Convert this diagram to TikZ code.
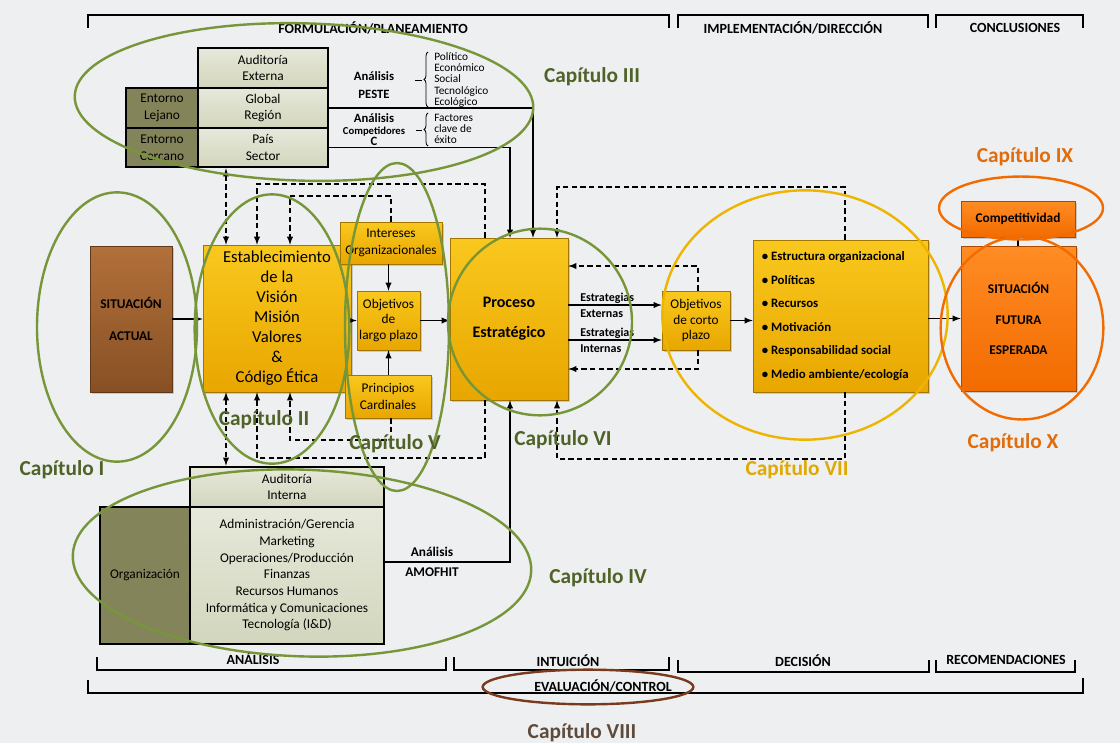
\documentclass[tikz,border=0pt]{standalone}
\usepackage{fontspec}
\setmainfont{Carlito}
\usetikzlibrary
  {
    positioning,               % place nodes relative to other nodes
    shadows,                   % soft shadow under the boxes
    decorations.pathreplacing, % braces beside the analyses
  }

\definecolor{fondo}{HTML}{EDEFF1}
\definecolor{oroclaro}{HTML}{F9C81E}
\definecolor{oro}{HTML}{E8A600}
\definecolor{naranjaclaro}{HTML}{FF8C24}
\definecolor{naranja}{HTML}{F26B00}
\definecolor{cafeclaro}{HTML}{B2703A}
\definecolor{cafe}{HTML}{875024}
\definecolor{salvia}{HTML}{D3D6BD}
\definecolor{salviaclaro}{HTML}{E6E8DA}
\definecolor{olivaosc}{HTML}{84845A}
\definecolor{olivo}{HTML}{77963A}
\definecolor{olivotxt}{HTML}{4F6228}
\definecolor{ambar}{HTML}{EDB400}
\definecolor{ambartxt}{HTML}{E0A800}
\definecolor{naranjatxt}{HTML}{E36C0A}
\definecolor{marron}{HTML}{7A3B1C}
\definecolor{marrontxt}{HTML}{5E4B3C}

\begin{document}
\begin{tikzpicture}[x=0.75pt, y=-0.75pt, >=latex,
    every node/.style={inner sep=0pt, align=center},
    tam/.style 2 args={minimum width=#1*0.75pt, minimum height=#2*0.75pt},
    sombra/.style={drop shadow={opacity=0.35, shadow xshift=1.2pt, shadow yshift=-1.2pt}},
    orobox/.style={draw=oro!70!black, line width=0.4pt, top color=oroclaro, bottom color=oro, sombra},
    naranjabox/.style={draw=naranja!70!black, line width=0.4pt, top color=naranjaclaro, bottom color=naranja, sombra},
    cafebox/.style={draw=cafe!70!black, line width=0.4pt, top color=cafeclaro, bottom color=cafe, sombra},
    clarobox/.style={draw=black, line width=2pt, top color=salviaclaro, bottom color=salvia},
    oscurobox/.style={draw=black, line width=2pt, fill=olivaosc},
    cuerpo/.style={font=\fontsize{10}{12.5}\selectfont},
    flecha/.style={->, line width=1.1pt},
    guia/.style={line width=1.1pt, dash pattern=on 4pt off 2.5pt},
    llave/.style={decorate, decoration={brace, amplitude=3pt}, line width=0.6pt},
    tramo/.style={line width=1.8pt},
    fase/.style={font=\bfseries\fontsize{10.5}{12}\selectfont},
    anillo/.style={line width=1.8pt},
    capitulo/.style={font=\bfseries\fontsize{16}{18}\selectfont},
  ]

  % background and page size
  \fill[fondo] (0,0) rectangle (1120,743);

  % phase brackets, top
  \draw[tramo] (88,28) -- (88,15) -- (669,15) -- (669,28);
  \draw[tramo] (678,28) -- (678,15) -- (928,15) -- (928,28);
  \draw[tramo] (936,28) -- (936,15) -- (1083,15) -- (1083,28);
  \node[fase] (formulacion) at (373,28) {FORMULACIÓN/PLANEAMIENTO};
  \node[fase] (implementacion) at (793,28) {IMPLEMENTACIÓN/DIRECCIÓN};
  \node[fase] (conclusiones) at (1015,28) {CONCLUSIONES};

  % phase brackets, bottom
  \draw[tramo] (97,657) -- (97,670) -- (446,670) -- (446,657);
  \draw[tramo] (454,657) -- (454,670) -- (669,670) -- (669,657);
  \draw[tramo] (678,660) -- (678,672) -- (929,672) -- (929,660);
  \draw[tramo] (936,660) -- (936,672) -- (1075,672) -- (1075,660);
  \draw[tramo] (88,680) -- (88,693) -- (1083,693) -- (1083,678);
  \node[fase] (analisis) at (253,659) {ANÁLISIS};
  \node[fase] (intuicion) at (568,661) {INTUICIÓN};
  \node[fase] (decision) at (803,661) {DECISIÓN};
  \node[fase] (recomendaciones) at (1006,660) {RECOMENDACIONES};
  \node[fase] (evaluacion) at (603,686) {EVALUACIÓN/CONTROL};

  % external audit
  \node[clarobox, cuerpo, tam={130}{40}] (externa) at (263,68) {Auditoría\\Externa};
  \node[clarobox, cuerpo, tam={130}{40}] (global) at (263,108) {Global\\Región};
  \node[clarobox, cuerpo, tam={130}{39}] (pais) at (263,147.5) {País\\Sector};
  \node[oscurobox, cuerpo, tam={72}{40}] (lejano) at (162,108) {Entorno\\Lejano};
  \node[oscurobox, cuerpo, tam={72}{39}] (cercano) at (162,147.5) {Entorno\\Cercano};

  \node[font=\bfseries\fontsize{9.5}{13.5}\selectfont] (peste) at (374,85) {Análisis\\PESTE};
  \node[font=\fontsize{8.5}{8.3}\selectfont, align=left, anchor=west] (factorespeste) at (434,80)
    {Político\\Económico\\Social\\Tecnológico\\Ecológico};
  \draw[llave] (428,107) -- (428,52);
  \draw[line width=0.6pt] (415,80) -- (422,80);

  \node[font=\bfseries\fontsize{9.5}{8.6}\selectfont] (competidores) at (374,130)
    {Análisis\\{\fontsize{8}{8.6}\selectfont Competidores}\\C};
  \node[font=\fontsize{8.5}{8.3}\selectfont, align=left, anchor=west] (factoresclave) at (434,129)
    {Factores\\clave de\\éxito};
  \draw[llave] (428,146) -- (428,113);
  \draw[line width=0.6pt] (416,130) -- (422,130);

  % main chain
  \node[cafebox, font=\bfseries\fontsize{10}{24}\selectfont, tam={82}{146}] (actual) at (131,319) {SITUACIÓN\\ACTUAL};
  \node[orobox, font=\fontsize{12.5}{15}\selectfont, tam={148}{147}] (mision) at (277,318.5)
    {Establecimiento\\de la\\Visión\\Misión\\Valores\\\&\\Código Ética};
  \node[orobox, cuerpo, tam={102}{42}] (intereses) at (391,243) {Intereses\\Organizacionales};
  \node[orobox, font=\fontsize{10}{11.6}\selectfont, tam={63}{59}] (largo) at (388.5,320.5) {Objetivos\\de\\largo plazo};
  \node[orobox, cuerpo, tam={86}{43}] (principios) at (388,396.5) {Principios\\Cardinales};
  \node[orobox, font=\bfseries\fontsize{12}{22.5}\selectfont, tam={118}{162}] (proceso) at (509,319) {Proceso\\Estratégico};
  \node[orobox, font=\fontsize{10}{11.6}\selectfont, tam={68}{59}] (corto) at (696,320.5) {Objetivos\\de corto\\plazo};
  \node[orobox, font=\bfseries\fontsize{9.6}{17.6}\selectfont, text width=118pt, align=flush left, tam={175}{152}] (estructura) at (840.5,316)
    {\textbullet\ Estructura organizacional\\\textbullet\ Políticas\\\textbullet\ Recursos\\
     \textbullet\ Motivación\\\textbullet\ Responsabilidad social\\\textbullet\ Medio ambiente/ecología};
  \node[naranjabox, font=\bfseries\fontsize{10}{11}\selectfont, tam={114}{36}] (competitividad) at (1018,219) {Competitividad};
  \node[naranjabox, font=\bfseries\fontsize{10}{23}\selectfont, tam={115}{145}] (futura) at (1018.5,318.5)
    {SITUACIÓN\\FUTURA\\ESPERADA};

  % internal audit
  \node[clarobox, cuerpo, tam={194}{40}] (interna) at (287,487) {Auditoría\\Interna};
  \node[oscurobox, cuerpo, tam={90}{137}] (organizacion) at (145,575.5) {Organización};
  \node[clarobox, cuerpo, tam={194}{137}] (areas) at (287,575.5)
    {Administración/Gerencia\\Marketing\\Operaciones/Producción\\Finanzas\\
     Recursos Humanos\\Informática y Comunicaciones\\Tecnología (I\&D)};
  \node[font=\bfseries\fontsize{10}{15}\selectfont] (amofhit) at (432,562) {Análisis\\AMOFHIT};

  % solid connectors
  \coordinate (cg) at (533,0);
  \coordinate (cp) at (510,0);
  \coordinate (am) at (510,562);
  \coordinate (ext) at (600,305);
  \coordinate (inn) at (600,340);
  \draw[flecha] (actual.east) -- (actual.east -| mision.west);
  \draw[flecha] (mision.east |- largo.west) -- (largo.west);
  \draw[flecha] (largo.north |- intereses.south) -- (largo.north);
  \draw[flecha] (largo.south |- principios.north) -- (largo.south);
  \draw[flecha] (largo.east) -- (largo.east -| proceso.west);
  \draw[flecha] (global.east) -| (proceso.north -| cg);
  \draw[flecha] (pais.east) -| (proceso.north -| cp);
  \draw[flecha] (areas.east |- am) -| (proceso.south -| am);
  \draw[flecha] (proceso.east |- ext) -- (corto.west |- ext);
  \draw[flecha] (proceso.east |- inn) -- (corto.west |- inn);
  \node[font=\bfseries\fontsize{9}{12}\selectfont, align=left, anchor=west] (externas) at (580,305) {Estrategias\\Externas};
  \node[font=\bfseries\fontsize{9}{12}\selectfont, align=left, anchor=west] (internas) at (580,340) {Estrategias\\Internas};
  \draw[flecha] (corto.east) -- (corto.east -| estructura.west);
  \draw[flecha] (futura.west -| estructura.east) -- (futura.west);
  \draw[line width=1.6pt] (competitividad.south) -- (competitividad.south |- futura.north);

  % dashed feedback loops
  \coordinate (da) at (226,0);
  \coordinate (db) at (257,184);
  \coordinate (pb) at (485,184);
  \coordinate (dc) at (290,196);
  \coordinate (ic) at (391,196);
  \coordinate (db2) at (257,458);
  \coordinate (pb2) at (485,458);
  \coordinate (dc2) at (290,440);
  \coordinate (ic2) at (391,440);
  \coordinate (rt) at (845,187);
  \coordinate (qt) at (557,187);
  \coordinate (rb) at (845,459);
  \coordinate (qb) at (557,459);
  \coordinate (ct) at (698,266);
  \coordinate (cb) at (698,369);
  \draw[guia, <->] (pais.south -| da) -- (mision.north -| da);
  \draw[guia, ->] (proceso.north -| pb) -- (pb) -| (mision.north -| db);
  \draw[guia, ->] (intereses.north -| ic) -- (ic) -| (mision.north -| dc);
  \draw[guia, <->] (mision.south -| da) -- (interna.north -| da);
  \draw[guia, ->] (proceso.south -| pb2) -- (pb2) -| (mision.south -| db2);
  \draw[guia, ->] (principios.south -| ic2) -- (ic2) -| (mision.south -| dc2);
  \draw[guia, ->] (estructura.north -| rt) -- (rt) -| (proceso.north -| qt);
  \draw[guia, ->] (estructura.south -| rb) -- (rb) -| (proceso.south -| qb);
  \draw[guia, ->] (corto.north -| ct) -- (ct) -- (proceso.east |- ct);
  \draw[guia, ->] (corto.south -| cb) -- (cb) -- (proceso.east |- cb);

  % chapter rings
  \draw[anillo, olivo] (117,327) ellipse [x radius=60pt, y radius=101pt];
  \draw[anillo, olivo] (272,329) ellipse [x radius=58pt, y radius=101pt];
  \draw[anillo, olivo, rotate around={-1.5:(304,102)}] (304,102) ellipse [x radius=172pt, y radius=59pt];
  \draw[anillo, olivo, rotate around={-2:(302,563)}] (302,563) ellipse [x radius=172pt, y radius=70pt];
  \draw[anillo, olivo] (397,327) ellipse [x radius=39pt, y radius=123pt];
  \draw[anillo, olivo] (540,322) ellipse [x radius=69pt, y radius=70pt];
  \draw[anillo, ambar] (805,315) ellipse [x radius=107pt, y radius=93.5pt];
  \draw[anillo, naranja] (1021,208) ellipse [x radius=61.5pt, y radius=23.6pt];
  \draw[anillo, naranja] (1022,328) ellipse [x radius=61pt, y radius=68.6pt];
  \draw[anillo, marron] (588,687) ellipse [x radius=79pt, y radius=13pt];

  % chapter labels
  \node[capitulo, text=olivotxt] (capI) at (62,470) {Capítulo I};
  \node[capitulo, text=olivotxt] (capII) at (264,420) {Capítulo II};
  \node[capitulo, text=olivotxt] (capIII) at (592,77) {Capítulo III};
  \node[capitulo, text=olivotxt] (capIV) at (598,578) {Capítulo IV};
  \node[capitulo, text=olivotxt] (capV) at (395,444) {Capítulo V};
  \node[capitulo, text=olivotxt] (capVI) at (563,440) {Capítulo VI};
  \node[capitulo, text=ambartxt] (capVII) at (797,470) {Capítulo VII};
  \node[capitulo, text=marrontxt] (capVIII) at (582,733) {Capítulo VIII};
  \node[capitulo, text=naranjatxt] (capIX) at (1025,157) {Capítulo IX};
  \node[capitulo, text=naranjatxt] (capX) at (1013,443) {Capítulo X};
\end{tikzpicture}
\end{document}
